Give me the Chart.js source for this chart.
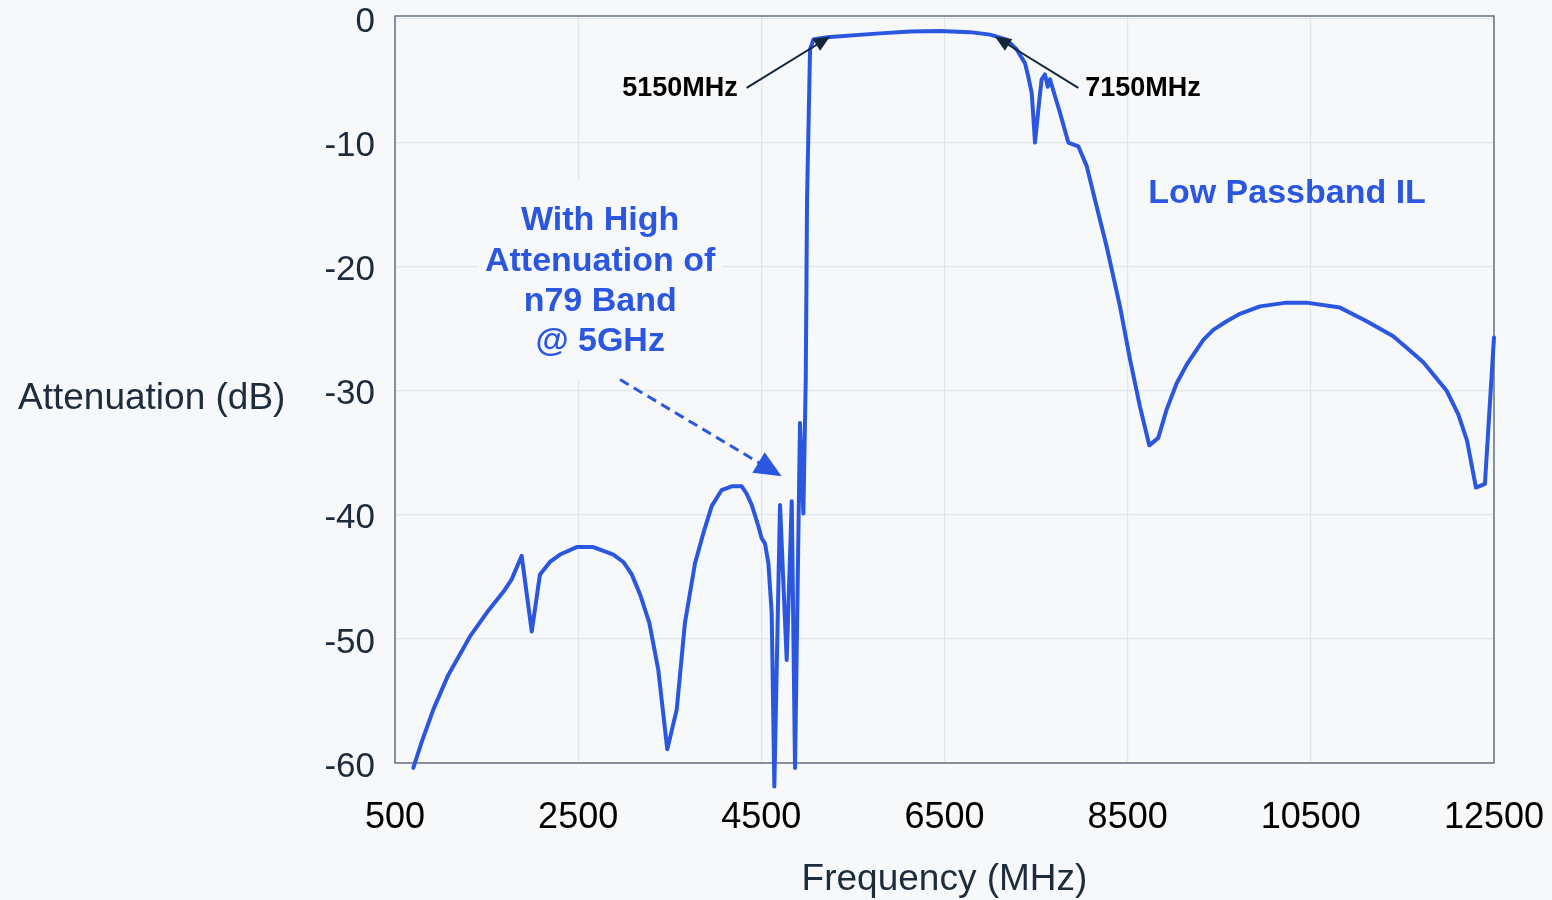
<!DOCTYPE html>
<html>
<head>
<meta charset="utf-8">
<script src="https://cdn.jsdelivr.net/npm/chart.js@4.4.1/dist/chart.umd.min.js"></script>
<style>
  html, body { margin: 0; padding: 0; background: #f6f8fa; }
  canvas { display: block; }
</style>
</head>
<body>
<canvas id="c" width="1552" height="900"></canvas>
<script>
// ---- Data ----
const freqMHz = [700, 792, 918, 1082, 1319, 1501, 1683, 1774, 1883, 1993, 2083, 2192, 2302, 2484, 2665, 2775, 2884, 2993, 3085, 3175, 3277, 3375, 3473, 3576, 3666, 3776, 3866, 3958, 4067, 4176, 4286, 4340, 4395, 4467, 4504, 4540, 4577, 4613, 4642, 4704, 4777, 4832, 4868, 4922, 4959, 4985, 4999, 5032, 5068, 5141, 5250, 5796, 6123, 6451, 6778, 6997, 7179, 7288, 7379, 7415, 7452, 7470, 7488, 7506, 7535, 7561, 7597, 7627, 7652, 7688, 7761, 7852, 7961, 8053, 8143, 8271, 8416, 8526, 8635, 8736, 8834, 8926, 9035, 9144, 9326, 9435, 9581, 9726, 9945, 10236, 10454, 10818, 11110, 11400, 11619, 11728, 11983, 12110, 12205, 12303, 12401, 12500];
const attenuationDb = [-60.4, -58.3, -55.7, -52.9, -49.8, -47.9, -46.2, -45.2, -43.3, -49.4, -44.8, -43.8, -43.2, -42.6, -42.6, -42.9, -43.2, -43.8, -44.8, -46.4, -48.7, -52.5, -58.9, -55.7, -48.7, -43.9, -41.5, -39.3, -38.0, -37.7, -37.7, -38.3, -39.2, -40.9, -41.9, -42.3, -43.9, -47.9, -61.9, -39.2, -51.7, -38.9, -60.4, -32.6, -39.9, -29.1, -14.6, -2.5, -1.7, -1.6, -1.5, -1.2, -1.05, -1.0, -1.1, -1.3, -1.7, -2.5, -3.6, -4.7, -6.0, -7.9, -10.0, -8.7, -6.6, -4.9, -4.5, -5.5, -4.9, -5.8, -7.6, -10.0, -10.3, -11.9, -14.6, -18.4, -23.2, -27.5, -31.3, -34.4, -33.8, -31.5, -29.4, -27.9, -25.9, -25.1, -24.4, -23.8, -23.2, -22.9, -22.9, -23.3, -24.4, -25.6, -27.0, -27.7, -30.0, -31.9, -34.0, -37.8, -37.5, -25.7];
const xTickValues = [500, 2500, 4500, 6500, 8500, 10500, 12500];
const yTickValues = [0, -10, -20, -30, -40, -50, -60];

// annotation anchors in data units
const arrow5150 = { label: '5150MHz', tail: [4340, -5.6], tip: [5250, -1.45] };
const arrow7150 = { label: '7150MHz', tail: [7961, -5.6], tip: [7051, -1.45] };
const noteLines = ['With High', 'Attenuation of', 'n79 Band', '@ 5GHz'];
const noteAnchor = [2740, -16.3];
const noteArrow = { tail: [2957, -29.1], tip: [4722, -36.9] };
const passNote = { label: 'Low Passband IL', at: [10240, -14.15] };

const BLUE = '#2b57e0';
const NAVY = '#1c2c3d';
const BG = '#f6f8fa';
const FONT = '"Liberation Sans", Arial, Helvetica, sans-serif';

function arrowHead(ctx, x0, y0, x1, y1, len, half, color) {
  const a = Math.atan2(y1 - y0, x1 - x0);
  ctx.save();
  ctx.fillStyle = color;
  ctx.beginPath();
  ctx.moveTo(x1, y1);
  ctx.lineTo(x1 - len * Math.cos(a) + half * Math.sin(a), y1 - len * Math.sin(a) - half * Math.cos(a));
  ctx.lineTo(x1 - len * Math.cos(a) - half * Math.sin(a), y1 - len * Math.sin(a) + half * Math.cos(a));
  ctx.closePath();
  ctx.fill();
  ctx.restore();
}

const decor = {
  id: 'decor',
  beforeDraw(chart) {
    const ctx = chart.ctx;
    ctx.save();
    ctx.fillStyle = BG;
    ctx.fillRect(0, 0, chart.width, chart.height);
    ctx.restore();
  },
  beforeDatasetsDraw(chart) {
    const ctx = chart.ctx, xs = chart.scales.x, ys = chart.scales.y, a = chart.chartArea;
    const cx = xs.getPixelForValue(noteAnchor[0]);
    const cy = ys.getPixelForValue(noteAnchor[1]);
    ctx.save();
    ctx.fillStyle = BG;
    ctx.fillRect(cx - 122, cy - 41, 244, 3 * 40.4 + 80);
    ctx.restore();
    ctx.save();
    ctx.strokeStyle = '#66717f';
    ctx.lineWidth = 1.5;
    ctx.strokeRect(a.left, a.top, a.right - a.left, a.bottom - a.top);
    ctx.restore();
  },
  afterDatasetsDraw(chart) {
    const ctx = chart.ctx, xs = chart.scales.x, ys = chart.scales.y, a = chart.chartArea;
    const P = (p) => [xs.getPixelForValue(p[0]), ys.getPixelForValue(p[1])];
    ctx.save();
    [[arrow5150, 'right', -9], [arrow7150, 'left', 7]].forEach(([ar, align, off]) => {
      const [tx, ty] = P(ar.tail), [hx, hy] = P(ar.tip);
      ctx.strokeStyle = '#13263a';
      ctx.lineWidth = 2;
      ctx.beginPath();
      ctx.moveTo(tx, ty);
      const ang = Math.atan2(hy - ty, hx - tx);
      ctx.lineTo(hx - 10 * Math.cos(ang), hy - 10 * Math.sin(ang));
      ctx.stroke();
      arrowHead(ctx, tx, ty, hx, hy, 16, 7, '#13263a');
      ctx.fillStyle = '#000';
      ctx.font = 'bold 27px ' + FONT;
      ctx.textAlign = align;
      ctx.textBaseline = 'middle';
      ctx.fillText(ar.label, tx + off, ty + 1);
    });
    const cx = xs.getPixelForValue(noteAnchor[0]);
    const cy = ys.getPixelForValue(noteAnchor[1]);
    ctx.fillStyle = BLUE;
    ctx.font = 'bold 34px ' + FONT;
    ctx.textAlign = 'center';
    ctx.textBaseline = 'middle';
    noteLines.forEach((t, i) => ctx.fillText(t, cx, cy + i * 40.4));
    const [ax, ay] = P(noteArrow.tail), [bx, by] = P(noteArrow.tip);
    const ang = Math.atan2(by - ay, bx - ax);
    ctx.strokeStyle = BLUE;
    ctx.lineWidth = 3;
    ctx.setLineDash([10, 6]);
    ctx.beginPath();
    ctx.moveTo(ax, ay);
    ctx.lineTo(bx - 22 * Math.cos(ang), by - 22 * Math.sin(ang));
    ctx.stroke();
    ctx.setLineDash([]);
    arrowHead(ctx, ax, ay, bx, by, 27, 12, BLUE);
    const [lx, ly] = P(passNote.at);
    ctx.fillStyle = BLUE;
    ctx.font = 'bold 34px ' + FONT;
    ctx.textAlign = 'center';
    ctx.fillText(passNote.label, lx, ly);
    ctx.fillStyle = NAVY;
    ctx.font = '37px ' + FONT;
    ctx.textAlign = 'left';
    ctx.textBaseline = 'middle';
    ctx.fillText('Attenuation (dB)', 18, (a.top + a.bottom) / 2 + 9);
    ctx.textAlign = 'center';
    ctx.fillText('Frequency (MHz)', (a.left + a.right) / 2, 880);
    ctx.restore();
  }
};

new Chart(document.getElementById('c'), {
  type: 'line',
  data: {
    datasets: [{
      data: freqMHz.map((f, i) => ({ x: f, y: attenuationDb[i] })),
      borderColor: BLUE,
      borderWidth: 4,
      pointRadius: 0,
      tension: 0,
      fill: false,
      clip: false,
      borderJoinStyle: 'round',
      borderCapStyle: 'round'
    }]
  },
  options: {
    responsive: false,
    devicePixelRatio: 1,
    animation: false,
    layout: { padding: { top: 16, right: 58, left: 0, bottom: 0 } },
    plugins: { legend: { display: false }, tooltip: { enabled: false } },
    scales: {
      x: {
        type: 'linear',
        min: 500,
        max: 12500,
        afterBuildTicks: (s) => { s.ticks = xTickValues.map(v => ({ value: v })); },
        afterFit: (s) => { s.height = 137; s.paddingLeft = 0; s.paddingRight = 0; },
        grid: { color: '#e1e6ee', lineWidth: 1.2, drawTicks: false },
        border: { display: false },
        ticks: {
          padding: 33,
          color: '#000',
          font: { family: FONT, size: 36 },
          maxRotation: 0,
          autoSkip: false,
          callback: (v) => String(v)
        }
      },
      y: {
        type: 'linear',
        min: -60,
        max: 0.2,
        afterBuildTicks: (s) => { s.ticks = yTickValues.map(v => ({ value: v })); },
        afterFit: (s) => { s.width = 395; s.paddingTop = 0; s.paddingBottom = 0; },
        grid: { color: '#e1e6ee', lineWidth: 1.2, drawTicks: false },
        border: { display: false },
        ticks: {
          padding: 20,
          labelOffset: 4,
          color: NAVY,
          font: { family: FONT, size: 35 },
          autoSkip: false,
          callback: (v) => String(v)
        }
      }
    }
  },
  plugins: [decor]
});
</script>
</body>
</html>
